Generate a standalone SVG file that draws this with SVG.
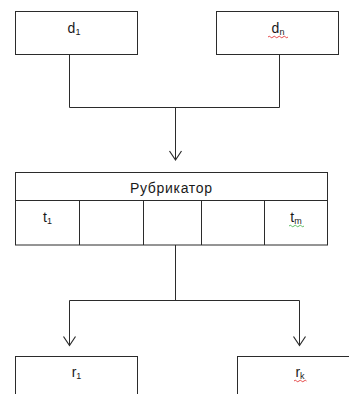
<svg xmlns="http://www.w3.org/2000/svg" width="349" height="394" viewBox="0 0 349 394">
<style>
.box{fill:#fff;stroke:#2b2b2b;stroke-width:1}
.ln{fill:none;stroke:#2b2b2b;stroke-width:1}
.t{font-family:"Liberation Sans",Arial,sans-serif;font-size:14px;fill:#1a1a1a;text-anchor:middle}
.sub{font-size:9px}
.sq{fill:none;stroke-width:0.8}
</style>
<defs>
<marker id="arr" markerUnits="userSpaceOnUse" markerWidth="14" markerHeight="14" refX="10" refY="7" orient="auto">
<path d="M1,1 L10,7 L1,13" fill="none" stroke="#2b2b2b" stroke-width="1.2"/>
</marker>
</defs>
<rect width="349" height="394" fill="#fff"/>
<g id="connectors">
<path class="ln" d="M69.5,54.5 V107.5 H279.5 V54.5"/>
<path class="ln" d="M175.5,107.5 V160" marker-end="url(#arr)"/>
<path class="ln" d="M175.5,245 V300.5"/>
<path class="ln" d="M69.5,300.5 H299.5"/>
<path class="ln" d="M69.5,300.5 V345.5" marker-end="url(#arr)"/>
<path class="ln" d="M299.5,300.5 V345.5" marker-end="url(#arr)"/>
</g>
<g id="d1">
<rect class="box" x="15.5" y="11.5" width="122" height="43"/>
<text class="t" x="74" y="33">d<tspan class="sub" dy="2">1</tspan></text>
</g>
<g id="dn">
<rect class="box" x="216.5" y="11.5" width="122" height="43"/>
<text class="t" x="278" y="33">d<tspan class="sub" dy="2">n</tspan></text>
<path class="sq" stroke="#e02020" d="M268,37 q1.25,-1.5 2.5,0 t2.5,0 t2.5,0 t2.5,0 t2.5,0 t2.5,0 t2.5,0 t2.5,0"/>
</g>
<g id="rubrikator">
<rect class="box" x="15.5" y="172.5" width="312" height="72.5"/>
<path class="ln" d="M15.5,200.5 H327.5 M79.5,200.5 V245 M143.5,200.5 V245 M201.5,200.5 V245 M264.5,200.5 V245"/>
<text class="t" x="171" y="193" textLength="82" lengthAdjust="spacing">Рубрикатор</text>
<text class="t" x="47.5" y="222">t<tspan class="sub" dy="2">1</tspan></text>
<text class="t" x="296" y="222">t<tspan class="sub" dy="2">m</tspan></text>
<path class="sq" stroke="#3cb043" d="M289,226 q1.25,-1.5 2.5,0 t2.5,0 t2.5,0 t2.5,0 t2.5,0 t2.5,0"/>
</g>
<g id="r1">
<rect class="box" x="15.5" y="356.5" width="122" height="50"/>
<text class="t" x="76.5" y="377">r<tspan class="sub" dy="2">1</tspan></text>
</g>
<g id="rk">
<rect class="box" x="237.5" y="356.5" width="130" height="50"/>
<text class="t" x="300" y="377">r<tspan class="sub" dy="2">k</tspan></text>
<path class="sq" stroke="#e02020" d="M294,381 q1.25,-1.5 2.5,0 t2.5,0 t2.5,0 t2.5,0 t2.5,0"/>
</g>
</svg>
